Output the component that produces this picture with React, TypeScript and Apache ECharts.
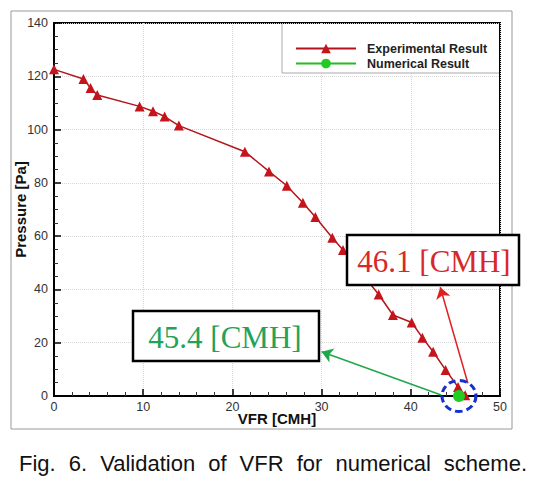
import React, { useEffect, useRef } from "react";
import * as echarts from "echarts";

// ---- Data ----
const expVFR = [0, 3.3, 4.1, 4.85, 9.6, 11.1, 12.4, 14.0, 21.4, 24.1, 26.1, 27.9, 29.3, 31.2, 32.4, 36.4, 38.0, 40.1, 41.3, 42.5, 43.9, 45.3, 46.1];
const expPressure = [122.6, 119.0, 115.6, 113.0, 108.7, 106.9, 104.9, 101.5, 91.7, 84.3, 78.9, 72.5, 67.2, 59.4, 54.8, 38.1, 30.4, 27.6, 21.9, 16.6, 9.8, 3.4, 0.3];
const numVFR = [45.4];
const numPressure = [0];

const seriesNames = ["Experimental Result", "Numerical Result"];
const xAxisName = "VFR [CMH]";
const yAxisName = "Pressure [Pa]";

// annotation arrows (data coordinates: [VFR, Pressure])
const redArrowFrom = [46.4, 4.8];
const redArrowTo = [43.3, 40.8];
const greenArrowFrom = [43.4, 0.4];
const greenArrowTo = [30.0, 16.6];
const redLabel = "46.1 [CMH]";
const greenLabel = "45.4 [CMH]";

const captionWords = ["Fig.", "6.", "Validation", "of", "VFR", "for", "numerical", "scheme."];

const SANS = "'Liberation Sans', Arial, Helvetica, sans-serif";
const SERIF = "'Liberation Serif', 'Times New Roman', serif";
const CAPTION_FONT = `22px ${SANS}`;

function layoutCaption(left: number, right: number) {
  const ctx = document.createElement("canvas").getContext("2d");
  let widths = captionWords.map((w) => w.length * 11);
  if (ctx) {
    ctx.font = CAPTION_FONT;
    widths = captionWords.map((w) => ctx.measureText(w).width);
  }
  const total = widths.reduce((a, b) => a + b, 0);
  const gap = (right - left - total) / (captionWords.length - 1);
  const xs: number[] = [];
  let x = left;
  widths.forEach((w) => {
    xs.push(x);
    x += w + gap;
  });
  return xs;
}

export default function App() {
  const ref = useRef<HTMLDivElement>(null);

  useEffect(() => {
    if (!ref.current) return;
    const chart = echarts.init(ref.current, undefined, { renderer: "svg" });

    const expData = expVFR.map((x, i) => [x, expPressure[i]]);
    const numData = numVFR.map((x, i) => [x, numPressure[i]]);
    const captionX = layoutCaption(19, 527);

    const axisCommon = {
      type: "value" as const,
      nameLocation: "middle" as const,
      nameMoveOverlap: false,
      nameTextStyle: { fontFamily: SANS, fontWeight: "bold", fontSize: 15, color: "#111" },
      axisLine: { show: true, onZero: false, lineStyle: { color: "#000", width: 2 } },
      axisTick: { show: true, inside: true, length: 7, lineStyle: { color: "#000", width: 1.5 } },
      axisLabel: { fontFamily: SANS, fontSize: 12.5, color: "#333" },
      splitLine: { show: true, lineStyle: { color: "#d8d8d8", type: "dotted", width: 1 } },
    };

    chart.setOption({
      animation: false,
      backgroundColor: "#fff",
      grid: {
        left: 54,
        top: 23,
        width: 446,
        height: 373,
        show: true,
        borderColor: "#000",
        borderWidth: 2,
        containLabel: false,
        outerBoundsMode: "none",
      },
      xAxis: {
        ...axisCommon,
        min: 0,
        max: 50,
        interval: 10,
        name: xAxisName,
        nameGap: 15,
        minorTick: { show: true, splitNumber: 5, length: 4, lineStyle: { color: "#333", width: 1 } },
        axisLabel: { ...axisCommon.axisLabel, margin: 4 },
      },
      yAxis: {
        ...axisCommon,
        min: 0,
        max: 140,
        interval: 20,
        name: yAxisName,
        nameGap: 26,
        minorTick: { show: true, splitNumber: 4, length: 4, lineStyle: { color: "#333", width: 1 } },
        axisLabel: { ...axisCommon.axisLabel, margin: 6 },
      },
      legend: {
        data: seriesNames,
        orient: "vertical",
        left: 290,
        top: 37,
        itemWidth: 60,
        itemHeight: 12,
        itemGap: 2,
        selectedMode: false,
        textStyle: { fontFamily: SANS, fontWeight: "bold", fontSize: 12.5, color: "#222", padding: [0, 0, 0, 6] },
        z: 5,
      },
      series: [
        {
          name: seriesNames[0],
          type: "line",
          data: expData,
          symbol: "triangle",
          symbolSize: 10,
          clip: false,
          z: 3,
          itemStyle: { color: "#c4141c" },
          lineStyle: { color: "#b3141b", width: 1.5 },
          markLine: {
            silent: true,
            symbol: ["none", "arrow"],
            symbolSize: 11,
            label: { show: false },
            lineStyle: { color: "#e02020", width: 1.5, type: "solid" },
            data: [[{ coord: redArrowFrom }, { coord: redArrowTo }]],
          },
        },
        {
          name: seriesNames[1],
          type: "line",
          data: numData,
          symbol: "circle",
          symbolSize: 12,
          clip: false,
          z: 4,
          itemStyle: { color: "#22cc22" },
          lineStyle: { color: "#22bb22", width: 1.5 },
          markLine: {
            silent: true,
            symbol: ["none", "arrow"],
            symbolSize: 11,
            label: { show: false },
            lineStyle: { color: "#1fa84a", width: 1.5, type: "solid" },
            data: [[{ coord: greenArrowFrom }, { coord: greenArrowTo }]],
          },
          markPoint: {
            silent: true,
            symbol: "circle",
            symbolSize: [34, 31],
            label: { show: false },
            itemStyle: { color: "rgba(0,0,0,0)", borderColor: "#1530d0", borderWidth: 3, borderType: [7, 4] },
            data: [{ coord: [numVFR[0], numPressure[0]] }],
          },
        },
      ],
      graphic: [
        {
          type: "rect",
          silent: true,
          z: 0,
          shape: { x: 11, y: 11, width: 501, height: 418 },
          style: { fill: "none", stroke: "#999", lineWidth: 1 },
        },
        {
          type: "rect",
          silent: true,
          z: 1,
          shape: { x: 282, y: 24, width: 217, height: 49 },
          style: { fill: "#fff", stroke: "none" },
        },
        {
          type: "polyline",
          silent: true,
          z: 1,
          shape: { points: [[282, 24], [282, 73], [499, 73]] },
          style: { fill: "none", stroke: "#aaa", lineWidth: 1 },
        },
        {
          type: "rect",
          silent: true,
          z: 10,
          shape: { x: 347, y: 235, width: 172, height: 50 },
          style: { fill: "#fff", stroke: "#000", lineWidth: 2.5 },
        },
        {
          type: "text",
          silent: true,
          z: 11,
          x: 434,
          y: 261,
          style: { text: redLabel, fill: "#d82828", font: `31px ${SERIF}`, align: "center", verticalAlign: "middle" },
        },
        {
          type: "rect",
          silent: true,
          z: 10,
          shape: { x: 133, y: 311, width: 186, height: 50 },
          style: { fill: "#fff", stroke: "#000", lineWidth: 2.5 },
        },
        {
          type: "text",
          silent: true,
          z: 11,
          x: 225,
          y: 337,
          style: { text: greenLabel, fill: "#22a35a", font: `31px ${SERIF}`, align: "center", verticalAlign: "middle" },
        },
        ...captionWords.map((w, i) => ({
          type: "text",
          silent: true,
          z: 5,
          x: captionX[i],
          y: 463,
          style: { text: w, fill: "#111", font: CAPTION_FONT, align: "left", verticalAlign: "middle" },
        })),
      ],
    });

    return () => chart.dispose();
  }, []);

  return (
    <div
      ref={ref}
      style={{ position: "absolute", left: 0, top: 0, width: 553, height: 482, background: "#fff" }}
    />
  );
}
